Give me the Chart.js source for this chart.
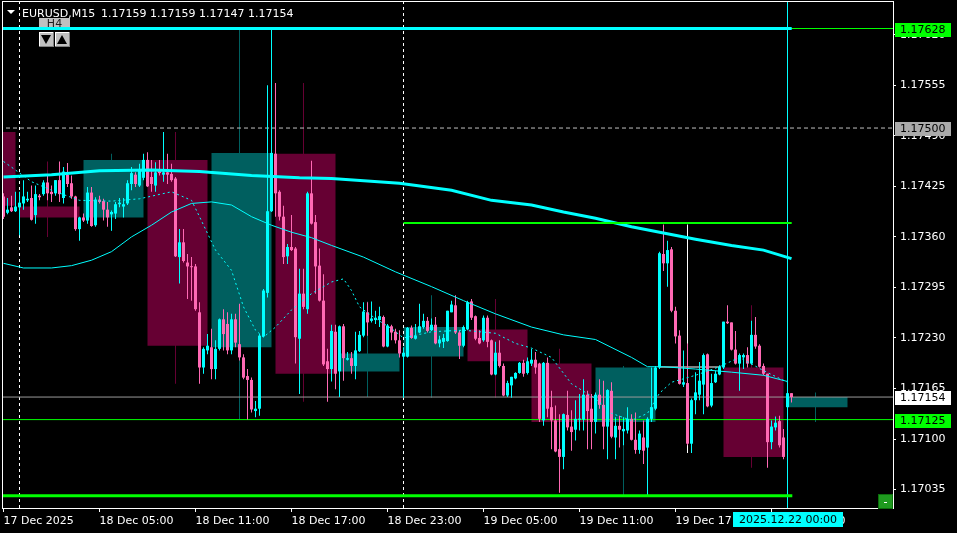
<!DOCTYPE html>
<html><head><meta charset="utf-8">
<script src="https://cdn.jsdelivr.net/npm/chart.js@4.4.1/dist/chart.umd.min.js"></script>
<style>html,body{margin:0;padding:0;background:#000;overflow:hidden}canvas{display:block}</style>
</head><body>
<canvas id="c" width="957" height="533"></canvas>
<script>
// ---------- DATA ----------
const symbolTitle = "EURUSD,M15";
const quoteTitle = "1.17159 1.17159 1.17147 1.17154";
const currentBarLabel = "2025.12.22 00:00";
const h4Label = "H4";

// M15 bars, index 0 = 17 Dec 23:00
const barOpen = [
1.17412,1.17391,1.17398,1.17393,1.17398,1.17403,1.17407,1.17410,1.17388,1.17413,
1.17415,1.17430,1.17418,1.17416,1.17433,1.17410,1.17440,1.17429,1.17412,1.17370,
1.17385,1.17381,1.17417,1.17375,1.17408,1.17406,1.17395,1.17389,1.17390,1.17402,
1.17399,1.17403,1.17428,1.17440,1.17426,1.17436,1.17459,1.17437,1.17426,1.17446,
1.17440,1.17443,1.17441,1.17435,1.17334,1.17353,1.17327,1.17322,1.17322,1.17263,
1.17192,1.17214,1.17218,1.17190,1.17216,1.17254,1.17248,1.17214,1.17254,1.17222,
1.17205,1.17181,1.17176,1.17136,1.17139,1.17232,1.17288,1.17393,1.17467,1.17418,
1.17386,1.17335,1.17347,1.17345,1.17229,1.17287,1.17267,1.17416,1.17379,1.17323,
1.17278,1.17200,1.17190,1.17238,1.17187,1.17245,1.17202,1.17204,1.17194,1.17213,
1.17233,1.17263,1.17252,1.17253,1.17253,1.17257,1.17219,1.17245,1.17238,1.17227,
1.17206,1.17206,1.17243,1.17229,1.17237,1.17244,1.17252,1.17240,1.17247,1.17223,
1.17225,1.17226,1.17263,1.17272,1.17237,1.17220,1.17241,1.17277,1.17258,1.17230,
1.17227,1.17256,1.17227,1.17183,1.17211,1.17194,1.17156,1.17169,1.17178,1.17185,
1.17198,1.17185,1.17197,1.17202,1.17197,1.17124,1.17198,1.17141,1.17124,1.17087,
1.17077,1.17131,1.17116,1.17112,1.17125,1.17125,1.17157,1.17139,1.17122,1.17157,
1.17144,1.17116,1.17162,1.17102,1.17117,1.17110,1.17111,1.17126,1.17099,1.17086,
1.17102,1.17089,1.17126,1.17139,1.17192,1.17338,1.17326,1.17344,1.17265,1.17233,
1.17170,1.17172,1.17094,1.17150,1.17157,1.17170,1.17209,1.17143,1.17173,1.17183,
1.17192,1.17251,1.17250,1.17215,1.17197,1.17205,1.17208,1.17197,1.17234,1.17220,
1.17194,1.17184,1.17096,1.17115,1.17123,1.17102,1.17141,1.17159];
const barHigh = [
1.17416,1.17410,1.17413,1.17418,1.17418,1.17433,1.17418,1.17426,1.17426,1.17415,
1.17433,1.17441,1.17426,1.17433,1.17457,1.17450,1.17455,1.17439,1.17413,1.17386,
1.17390,1.17424,1.17424,1.17411,1.17413,1.17409,1.17405,1.17394,1.17405,1.17410,
1.17410,1.17433,1.17450,1.17443,1.17454,1.17467,1.17469,1.17459,1.17456,1.17459,
1.17495,1.17467,1.17454,1.17437,1.17370,1.17370,1.17338,1.17334,1.17325,1.17276,
1.17218,1.17235,1.17242,1.17227,1.17255,1.17267,1.17263,1.17261,1.17261,1.17274,
1.17209,1.17190,1.17179,1.17149,1.17235,1.17293,1.17555,1.17626,1.17558,1.17420,
1.17400,1.17351,1.17388,1.17347,1.17319,1.17319,1.17418,1.17458,1.17388,1.17345,
1.17312,1.17216,1.17247,1.17247,1.17246,1.17248,1.17212,1.17212,1.17238,1.17239,
1.17276,1.17276,1.17277,1.17265,1.17270,1.17259,1.17248,1.17247,1.17242,1.17240,
1.17218,1.17244,1.17246,1.17248,1.17274,1.17261,1.17257,1.17255,1.17257,1.17233,
1.17235,1.17265,1.17278,1.17285,1.17240,1.17246,1.17278,1.17280,1.17259,1.17240,
1.17259,1.17259,1.17228,1.17225,1.17227,1.17197,1.17175,1.17180,1.17186,1.17199,
1.17202,1.17205,1.17216,1.17212,1.17198,1.17199,1.17205,1.17162,1.17143,1.17132,
1.17133,1.17162,1.17137,1.17150,1.17158,1.17177,1.17162,1.17158,1.17160,1.17177,
1.17175,1.17164,1.17173,1.17128,1.17130,1.17128,1.17141,1.17132,1.17134,1.17111,
1.17124,1.17128,1.17192,1.17194,1.17341,1.17376,1.17355,1.17347,1.17270,1.17240,
1.17214,1.17223,1.17152,1.17186,1.17199,1.17210,1.17210,1.17184,1.17188,1.17195,
1.17251,1.17272,1.17250,1.17239,1.17210,1.17210,1.17218,1.17252,1.17257,1.17222,
1.17197,1.17184,1.17124,1.17129,1.17130,1.17113,1.17160,1.17159];
const barLow = [
1.17383,1.17389,1.17392,1.17392,1.17362,1.17395,1.17405,1.17381,1.17377,1.17407,
1.17413,1.17407,1.17405,1.17413,1.17405,1.17403,1.17424,1.17409,1.17368,1.17355,
1.17379,1.17377,1.17373,1.17373,1.17403,1.17381,1.17373,1.17368,1.17383,1.17398,
1.17385,1.17401,1.17420,1.17424,1.17424,1.17433,1.17424,1.17418,1.17418,1.17439,
1.17431,1.17428,1.17431,1.17334,1.17300,1.17327,1.17280,1.17278,1.17265,1.17171,
1.17184,1.17209,1.17177,1.17177,1.17214,1.17214,1.17209,1.17209,1.17218,1.17201,
1.17177,1.17125,1.17134,1.17128,1.17130,1.17231,1.17282,1.17392,1.17386,1.17381,
1.17325,1.17325,1.17342,1.17197,1.17158,1.17267,1.17261,1.17376,1.17287,1.17277,
1.17194,1.17148,1.17174,1.17164,1.17154,1.17175,1.17201,1.17184,1.17177,1.17212,
1.17231,1.17233,1.17250,1.17248,1.17244,1.17218,1.17218,1.17227,1.17223,1.17205,
1.17153,1.17205,1.17229,1.17228,1.17236,1.17242,1.17237,1.17239,1.17222,1.17218,
1.17217,1.17225,1.17263,1.17235,1.17203,1.17218,1.17240,1.17253,1.17227,1.17222,
1.17225,1.17218,1.17182,1.17182,1.17192,1.17155,1.17154,1.17153,1.17177,1.17184,
1.17180,1.17183,1.17194,1.17184,1.17122,1.17117,1.17128,1.17087,1.17083,1.17031,
1.17061,1.17111,1.17085,1.17098,1.17111,1.17111,1.17087,1.17087,1.17107,1.17139,
1.17087,1.17074,1.17101,1.17074,1.17089,1.17092,1.17107,1.17098,1.17081,1.17081,
1.17068,1.17027,1.17122,1.17137,1.17190,1.17316,1.17296,1.17263,1.17223,1.17170,
1.17167,1.17092,1.17082,1.17132,1.17150,1.17132,1.17141,1.17141,1.17172,1.17182,
1.17190,1.17248,1.17214,1.17196,1.17162,1.17190,1.17192,1.17196,1.17216,1.17192,
1.17182,1.17063,1.17087,1.17111,1.17089,1.17074,1.17139,1.17147];
const barClose = [
1.17386,1.17395,1.17393,1.17399,1.17404,1.17412,1.17409,1.17382,1.17415,1.17411,
1.17430,1.17416,1.17415,1.17433,1.17415,1.17444,1.17428,1.17412,1.17370,1.17385,
1.17381,1.17417,1.17374,1.17408,1.17405,1.17395,1.17385,1.17392,1.17402,1.17404,
1.17402,1.17429,1.17442,1.17428,1.17446,1.17459,1.17425,1.17428,1.17443,1.17442,
1.17443,1.17440,1.17433,1.17335,1.17353,1.17329,1.17322,1.17321,1.17267,1.17192,
1.17216,1.17220,1.17190,1.17216,1.17254,1.17235,1.17214,1.17254,1.17224,1.17205,
1.17179,1.17176,1.17138,1.17139,1.17233,1.17291,1.17393,1.17468,1.17416,1.17386,
1.17334,1.17347,1.17343,1.17231,1.17287,1.17270,1.17416,1.17377,1.17322,1.17278,
1.17196,1.17190,1.17239,1.17184,1.17245,1.17204,1.17204,1.17194,1.17214,1.17234,
1.17264,1.17250,1.17255,1.17256,1.17258,1.17219,1.17246,1.17237,1.17227,1.17210,
1.17211,1.17243,1.17230,1.17233,1.17245,1.17252,1.17239,1.17247,1.17223,1.17228,
1.17230,1.17265,1.17273,1.17237,1.17220,1.17244,1.17276,1.17256,1.17229,1.17223,
1.17256,1.17225,1.17183,1.17211,1.17194,1.17156,1.17172,1.17180,1.17185,1.17198,
1.17184,1.17200,1.17202,1.17192,1.17126,1.17198,1.17139,1.17124,1.17084,1.17077,
1.17132,1.17115,1.17109,1.17126,1.17126,1.17157,1.17136,1.17122,1.17157,1.17144,
1.17116,1.17163,1.17103,1.17117,1.17112,1.17113,1.17126,1.17099,1.17086,1.17107,
1.17085,1.17126,1.17141,1.17192,1.17339,1.17326,1.17343,1.17265,1.17232,1.17171,
1.17173,1.17094,1.17150,1.17160,1.17175,1.17208,1.17142,1.17172,1.17184,1.17193,
1.17251,1.17249,1.17215,1.17197,1.17208,1.17208,1.17197,1.17234,1.17219,1.17193,
1.17184,1.17096,1.17116,1.17121,1.17092,1.17077,1.17159,1.17154];

// H4 overlay candles (start bar index of each 4-hour block)
const h4Start = [-12, 4, 20, 36, 52, 68, 84, 100, 116, 132, 148, 164, 180, 196];
const h4Open  = [1.17495,1.17399,1.17385,1.17459,1.17218,1.17467,1.17187,1.17206,1.17241,1.17197,1.17122,1.17192,1.17192,1.17141];
const h4High  = [1.17520,1.17457,1.17467,1.17495,1.17626,1.17558,1.17277,1.17285,1.17280,1.17216,1.17194,1.17376,1.17272,1.17160];
const h4Low   = [1.17380,1.17360,1.17368,1.17171,1.17125,1.17148,1.17154,1.17153,1.17153,1.17031,1.17027,1.17082,1.17063,1.17122];
const h4Close = [1.17400,1.17385,1.17459,1.17220,1.17468,1.17184,1.17210,1.17244,1.17200,1.17122,1.17192,1.17192,1.17077,1.17154];

// Moving averages read at sample bars
const maSlowBar = [0,12,24,37,49,62,74,82,99,112,122,132,140,148,157,165,173,182,190,197];
const maSlowVal = [1.17437,1.17440,1.17445,1.17446,1.17444,1.17439,1.17436,1.17435,1.17429,1.17420,1.17407,1.17401,1.17392,1.17384,1.17373,1.17365,1.17357,1.17349,1.17343,1.17332];
const maMidBar = [0,5,12,17,22,27,32,37,42,47,52,57,62,67,72,77,82,90,98,107,115,123,132,140,148,157,161,165,173,182,190,196];
const maMidVal = [1.17326,1.17320,1.17320,1.17323,1.17330,1.17341,1.17360,1.17375,1.17392,1.17403,1.17405,1.17401,1.17386,1.17375,1.17366,1.17359,1.17349,1.17334,1.17315,1.17296,1.17278,1.17261,1.17244,1.17234,1.17228,1.17205,1.17193,1.17193,1.17190,1.17186,1.17182,1.17174];
const maFastBar = [0,3,7,12,19,27,34,42,47,49,53,57,60,63,65,68,72,77,82,85,87,89,93,97,100,107,115,123,128,132,137,142,148,152,157,161,164,167,173,179,184,190,196];
const maFastVal = [1.17457,1.17446,1.17431,1.17420,1.17407,1.17406,1.17409,1.17418,1.17407,1.17386,1.17343,1.17317,1.17270,1.17240,1.17231,1.17244,1.17266,1.17287,1.17302,1.17306,1.17291,1.17270,1.17255,1.17242,1.17230,1.17238,1.17240,1.17236,1.17223,1.17217,1.17205,1.17171,1.17152,1.17133,1.17124,1.17133,1.17159,1.17173,1.17182,1.17193,1.17205,1.17188,1.17173];

// Horizontal levels and vertical markers
const levelTop = 1.17628, levelRound = 1.17500, levelMid = 1.17378;
const levelBid = 1.17154, levelAlert = 1.17125, levelBottom = 1.17027;
const segmentEndBar = 197.05, midSegmentStartBar = 100;
const daySeparatorBars = [4, 100];
const currentBar = 196;

// Axis ticks
const priceTicks = [1.17035,1.17100,1.17165,1.17230,1.17295,1.17360,1.17425,1.17490,1.17555,1.17620];
const timeTickBars = [0,24,48,72,96,120,144,168,192];
const timeTickLabels = ["17 Dec 2025","18 Dec 05:00","18 Dec 11:00","18 Dec 17:00","18 Dec 23:00","19 Dec 05:00","19 Dec 11:00","19 Dec 17:00","19 Dec 23:00"];
const priceTags = [[1.17628,'#00ff00'],[1.17500,'#aaaaaa'],[1.17154,'#ffffff'],[1.17125,'#00ff00']];

// ---------- CHART ----------
const X_MIN = -0.125, X_MAX = 222.375;
const Y_MIN = 1.170113, Y_MAX = 1.176621;
const FONT = "'DejaVu Sans', sans-serif";
Chart.defaults.font.family = FONT;
Chart.defaults.font.size = 11;
Chart.defaults.color = '#ffffff';

const BULL = '#00ffff', BEAR = '#ff69b4';
const H4UP = '#005f5f', H4DN = '#660033';
const candleCol = barOpen.map((o,i) => barClose[i] >= o ? BULL : BEAR);
const h4Col = h4Open.map((o,i) => h4Close[i] > o ? H4UP : (h4Close[i] < o ? H4DN : '#ffffff'));

function barSet(data, colors, thick, order, extra) {
  return Object.assign({type:'bar', data, backgroundColor: colors, borderWidth:0, barThickness: thick,
    maxBarThickness: thick, grouped:false, inflateAmount:0, order, xAxisID:'x', yAxisID:'y'}, extra||{});
}
function lineSet(points, color, width, dash, order) {
  return {type:'line', data: points, borderColor: color, borderWidth: width, borderDash: dash||[],
    pointRadius:0, pointHoverRadius:0, fill:false, tension:0, order, xAxisID:'x', yAxisID:'y'};
}
const hPts = (y, x0, x1) => [{x:x0, y}, {x:x1, y}];

const datasets = [
  // objects on top
  lineSet(hPts(levelTop, X_MIN-1, segmentEndBar), '#00ffff', 3, [], 0),
  lineSet(hPts(levelTop, X_MIN-1, X_MAX+1), '#00ff00', 1, [], 1),
  lineSet(hPts(levelBottom, X_MIN-1, segmentEndBar + 0.15), '#00ff00', 3, [], 1),
  lineSet(hPts(levelMid, midSegmentStartBar, segmentEndBar), '#00ff00', 2, [], 1),
  lineSet([{x:currentBar, y:Y_MIN}, {x:currentBar, y:Y_MAX}], '#00ffff', 1, [], 1),
  // moving averages
  lineSet(maSlowBar.map((b,i)=>({x:b, y:maSlowVal[i]})), '#00ffff', 3, [], 2),
  lineSet(maMidBar.map((b,i)=>({x:b, y:maMidVal[i]})), '#00ffff', 1, [], 2),
  lineSet(maFastBar.map((b,i)=>({x:b, y:maFastVal[i]})), '#00ffff', 1, [2,3], 2),
  // candles
  barSet(barOpen.map((o,i)=>({x:i, y:[o, barClose[i]]})), candleCol, 3, 4, {minBarLength:1}),
  barSet(barLow.map((l,i)=>({x:i, y:[l, barHigh[i]]})), candleCol, 1, 5),
  // price lines & separators
  lineSet(hPts(levelBid, X_MIN-1, X_MAX+1), '#9a9a9a', 1, [], 6),
  lineSet(hPts(levelAlert, X_MIN-1, X_MAX+1), '#00ff00', 1, [], 6),
  lineSet(hPts(levelRound, X_MIN-1, X_MAX+1), '#c0c0c0', 1, [4,3], 6),
  ...daySeparatorBars.map(b => lineSet([{x:b, y:Y_MIN}, {x:b, y:Y_MAX}], '#ffffff', 1, [3,3], 6)),
  // H4 overlay
  barSet(h4Open.map((o,i)=>({x:h4Start[i]+7.5, y:[o, h4Close[i]]})), h4Col, 60, 8, {minBarLength:1}),
  barSet(h4Low.map((l,i)=>({x:h4Start[i]+7, y:[l, h4High[i]]})), h4Col, 1, 9),
];

const overlay = {
  id: 'overlay',
  beforeDraw(chart) {
    const c = chart.ctx; c.save(); c.fillStyle = '#000'; c.fillRect(0,0,chart.width,chart.height); c.restore();
  },
  beforeDatasetsDraw(chart) {
    const c = chart.ctx; c.save();
    // H4 period control
    c.fillStyle = '#c0c0c0'; c.fillRect(39, 18, 31, 12);
    c.fillStyle = '#202020'; c.font = "11px " + FONT; c.textAlign = 'center'; c.textBaseline = 'middle';
    c.fillText(h4Label, 54.5, 24.5);
    [[39,'down'],[55,'up']].forEach(([bx,dir]) => {
      c.fillStyle = '#c0c0c0'; c.fillRect(bx, 32, 15, 15);
      c.fillStyle = '#ffffff'; c.fillRect(bx, 32, 15, 1); c.fillRect(bx, 32, 1, 15);
      c.fillStyle = '#808080'; c.fillRect(bx, 46, 15, 1); c.fillRect(bx+14, 32, 1, 15);
      c.fillStyle = '#000'; c.beginPath();
      if (dir === 'down') { c.moveTo(bx+2, 35); c.lineTo(bx+12, 35); c.lineTo(bx+7, 44); }
      else { c.moveTo(bx+2, 44); c.lineTo(bx+12, 44); c.lineTo(bx+7, 35); }
      c.closePath(); c.fill();
    });
    c.restore();
  },
  afterDraw(chart) {
    const c = chart.ctx, ys = chart.scales.y, xs = chart.scales.x, a = chart.chartArea;
    c.save();
    c.strokeStyle = '#ffffff'; c.lineWidth = 1;
    c.strokeRect(a.left - 0.5, a.top - 0.5, a.right - a.left + 1, a.bottom - a.top + 1);
    // title
    c.fillStyle = '#ffffff';
    c.beginPath(); c.moveTo(7,10); c.lineTo(15,10); c.lineTo(11,14); c.closePath(); c.fill();
    c.font = "11px " + FONT; c.textAlign = 'left'; c.textBaseline = 'alphabetic';
    c.fillText(symbolTitle, 22, 16.5);
    c.fillText(quoteTitle, 101, 16.5);
    // price tags on the right axis
    c.textBaseline = 'middle';
    priceTags.forEach(([v, bg]) => {
      const py = Math.round(ys.getPixelForValue(v));
      c.fillStyle = bg; c.fillRect(895, py - 6, 56, 14);
      c.fillStyle = '#000'; c.fillText(v.toFixed(5), 900, py + 1.5);
    });
    // current bar time tag
    const cx = Math.round(xs.getPixelForValue(currentBar));
    c.fillStyle = '#00ffff'; c.fillRect(cx - 55, 512, 110, 15);
    c.fillStyle = '#000'; c.textAlign = 'center'; c.fillText(currentBarLabel, cx, 520);
    // small green button
    c.fillStyle = '#0b6e0b'; c.fillRect(878, 494, 15, 15);
    c.fillStyle = '#1f9a1f'; c.fillRect(879, 495, 13, 13);
    c.fillStyle = '#ffffff'; c.fillRect(884, 502, 3, 1);
    c.restore();
  }
};

new Chart(document.getElementById('c'), {
  type: 'bar',
  data: { datasets },
  options: {
    responsive: false, animation: false, devicePixelRatio: 1,
    layout: { padding: { left: 3, top: 2, right: 0, bottom: 0 } },
    plugins: { legend: { display: false }, tooltip: { enabled: false }, title: { display: false } },
    events: [],
    scales: {
      x: {
        type: 'linear', min: X_MIN, max: X_MAX, offset: false, position: 'bottom',
        afterBuildTicks: s => { s.ticks = timeTickBars.map(v => ({value: v})); },
        afterFit: s => { s.height = 25; s.paddingLeft = 0; s.paddingRight = 0; },
        ticks: { autoSkip: false, maxRotation: 0, minRotation: 0, align: 'start', padding: 3,
                 color: '#ffffff', font: { family: FONT, size: 11 },
                 callback: (v, i) => timeTickLabels[i] },
        grid: { display: true, drawOnChartArea: false, drawTicks: true, tickLength: 4, tickColor: '#ffffff', offset: false, color: '#ffffff' },
        border: { display: true, color: '#ffffff', width: 1 }
      },
      y: {
        type: 'linear', position: 'right', min: Y_MIN, max: Y_MAX, beginAtZero: false,
        afterBuildTicks: s => { s.ticks = priceTicks.map(v => ({value: v})); },
        afterFit: s => { s.width = 64; s.paddingTop = 0; s.paddingBottom = 0; },
        ticks: { padding: 4, crossAlign: 'near', color: '#ffffff', font: { family: FONT, size: 11 },
                 callback: v => Number(v).toFixed(5) },
        grid: { display: true, drawOnChartArea: false, drawTicks: true, tickLength: 3, tickColor: '#ffffff', color: '#ffffff' },
        border: { display: true, color: '#ffffff', width: 1 }
      }
    }
  },
  plugins: [overlay]
});
</script>
</body></html>
